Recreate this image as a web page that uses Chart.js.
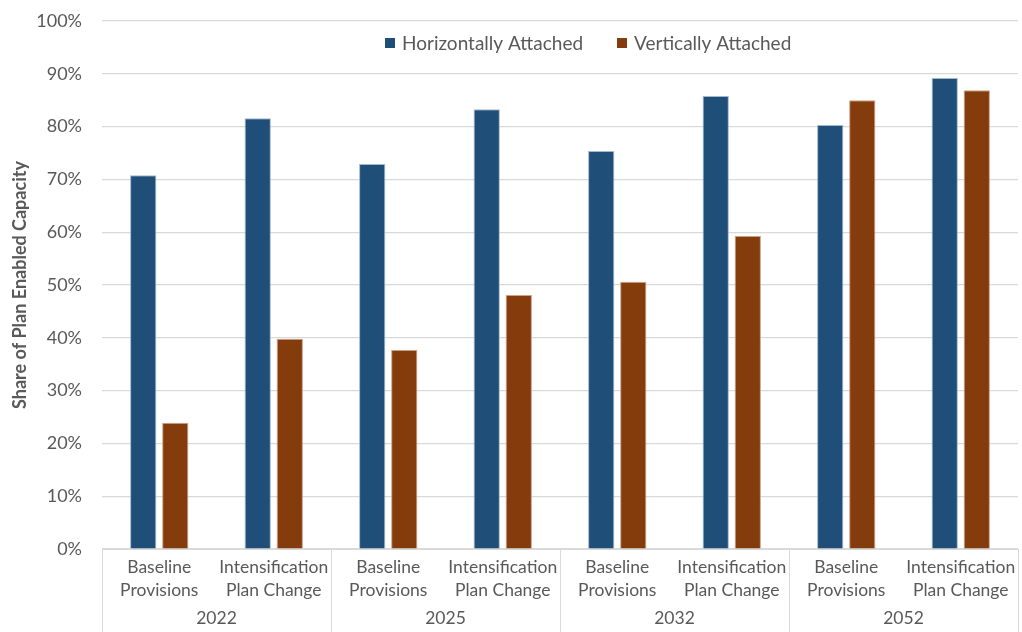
<!DOCTYPE html>
<html>
<head>
<meta charset="utf-8">
<script src="https://cdn.jsdelivr.net/npm/chart.js@4/dist/chart.umd.min.js"></script>
<style>
  html, body { margin: 0; padding: 0; background: #ffffff; }
  #wrap { width: 1022px; height: 632px; position: relative; }
</style>
</head>
<body>
<div id="wrap"><canvas id="chart" width="1022" height="632"></canvas></div>
<script>
// Scenario labels (two-line) and the year each pair belongs to
const categories = [
  ['Baseline', 'Provisions'], ['Intensification', 'Plan Change'],
  ['Baseline', 'Provisions'], ['Intensification', 'Plan Change'],
  ['Baseline', 'Provisions'], ['Intensification', 'Plan Change'],
  ['Baseline', 'Provisions'], ['Intensification', 'Plan Change']
];
const years = ['2022', '2025', '2032', '2052'];

// Share of plan enabled capacity (%)
const horizontallyAttached = [70.8, 81.6, 72.9, 83.3, 75.4, 85.8, 80.3, 89.2];
const verticallyAttached   = [23.9, 39.8, 37.7, 48.1, 50.6, 59.3, 85.0, 86.9];

const yTicks = [0, 10, 20, 30, 40, 50, 60, 70, 80, 90, 100];

const FONT = 'Lato, "Open Sans", sans-serif';
const TEXT = '#595959';
const GRID = '#D9D9D9';

// Legend drawn inside the plot area, between the top gridlines
const floatingLegend = {
  id: 'floatingLegend',
  afterDatasetsDraw(chart) {
    const ctx = chart.ctx;
    const items = chart.data.datasets;
    const starts = [385, 617];
    ctx.save();
    ctx.font = '19px ' + FONT;
    ctx.textBaseline = 'middle';
    ctx.textAlign = 'left';
    items.forEach((ds, i) => {
      const x = starts[i];
      const y = 43;
      ctx.fillStyle = ds.backgroundColor;
      ctx.fillRect(x, y - 5, 10, 10);
      ctx.fillStyle = TEXT;
      ctx.fillText(ds.label, x + 17, y + 1);
    });
    ctx.restore();
  }
};

// Vertical separators between year groups below the axis
const groupSeparators = {
  id: 'groupSeparators',
  afterDraw(chart) {
    const { ctx, chartArea } = chart;
    const n = years.length;
    const step = (chartArea.right - chartArea.left) / n;
    ctx.save();
    ctx.strokeStyle = GRID;
    ctx.lineWidth = 1;
    for (let i = 0; i <= n; i++) {
      const x = Math.round(chartArea.left + i * step) + 0.5;
      ctx.beginPath();
      ctx.moveTo(x, chartArea.bottom);
      ctx.lineTo(x, chart.height);
      ctx.stroke();
    }
    ctx.restore();
  }
};

new Chart(document.getElementById('chart'), {
  type: 'bar',
  data: {
    labels: categories,
    datasets: [
      {
        label: 'Horizontally Attached',
        data: horizontallyAttached,
        backgroundColor: '#1F4E79',
        borderColor: 'rgba(150,175,200,0.9)',
        borderWidth: 1,
        xAxisID: 'x'
      },
      {
        label: 'Vertically Attached',
        data: verticallyAttached,
        backgroundColor: '#843C0C',
        borderColor: 'rgba(200,150,120,0.9)',
        borderWidth: 1,
        xAxisID: 'x'
      }
    ]
  },
  options: {
    responsive: false,
    animation: false,
    maintainAspectRatio: false,
    categoryPercentage: 0.56,
    barPercentage: 0.82,
    layout: { padding: { top: 21, right: 4, bottom: 0, left: 0 } },
    plugins: {
      legend: { display: false },
      tooltip: { enabled: false }
    },
    scales: {
      x: {
        type: 'category',
        position: 'bottom',
        grid: { display: false, drawTicks: false },
        border: { display: true, color: GRID, width: 1 },
        ticks: {
          color: TEXT,
          font: { family: FONT, size: 17.5, lineHeight: 1.3 },
          padding: 7,
          maxRotation: 0,
          autoSkip: false
        },
        afterFit(scale) { scale.height = 55; scale.paddingLeft = 0; scale.paddingRight = 0; }
      },
      x2: {
        type: 'category',
        position: 'bottom',
        labels: years,
        offset: true,
        grid: { display: false, drawTicks: false },
        border: { display: false },
        ticks: {
          color: TEXT,
          font: { family: FONT, size: 17.5 },
          padding: 4,
          maxRotation: 0
        },
        afterFit(scale) { scale.height = 28; scale.paddingLeft = 0; scale.paddingRight = 0; }
      },
      y: {
        min: 0,
        max: 100,
        afterBuildTicks(scale) { scale.ticks = yTicks.map(v => ({ value: v })); },
        grid: { color: GRID, lineWidth: 1.2, drawTicks: false },
        border: { display: false },
        ticks: {
          color: TEXT,
          font: { family: FONT, size: 18 },
          padding: 20,
          callback: v => v + '%'
        },
        title: {
          display: true,
          text: 'Share of Plan Enabled Capacity',
          color: TEXT,
          font: { family: FONT, size: 18, weight: 'bold' },
          padding: { top: 9, bottom: 0 }
        },
        afterFit(scale) { scale.width = 102; scale.paddingTop = 0; scale.paddingBottom = 0; }
      }
    }
  },
  plugins: [groupSeparators, floatingLegend]
});
</script>
</body>
</html>
